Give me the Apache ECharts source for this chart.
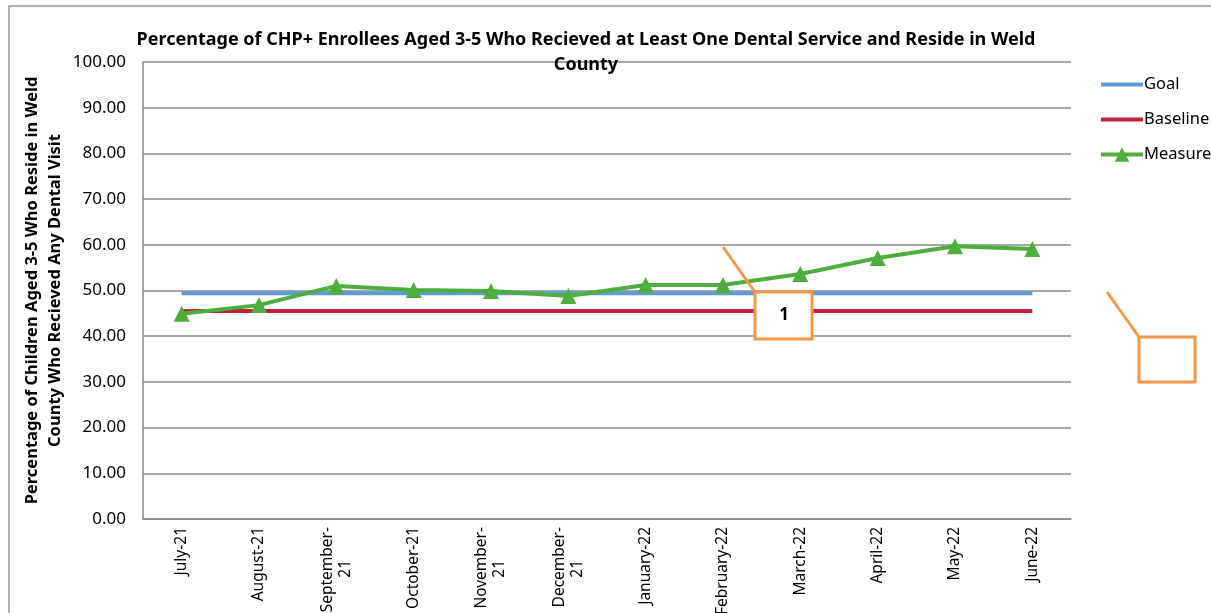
<!DOCTYPE html>
<html>
<head>
<meta charset="utf-8">
<script src="https://cdn.jsdelivr.net/npm/echarts@6/dist/echarts.min.js"></script>
<style>
  html, body { margin: 0; padding: 0; background: #fff; }
  #main { width: 1211px; height: 613px; }
</style>
</head>
<body>
<div id="main"></div>
<script>
// data
var months = ["July-21", "August-21", "September-\n21", "October-21", "November-\n21", "December-\n21",
  "January-22", "February-22", "March-22", "April-22", "May-22", "June-22"];
var goal = [49.4, 49.4, 49.4, 49.4, 49.4, 49.4, 49.4, 49.4, 49.4, 49.4, 49.4, 49.4];
var baseline = [45.5, 45.5, 45.5, 45.5, 45.5, 45.5, 45.5, 45.5, 45.5, 45.5, 45.5, 45.5];
var measure = [44.9, 46.8, 51.0, 50.1, 49.9, 48.8, 51.2, 51.2, 53.6, 57.1, 59.7, 59.1];

var font = "Noto Sans";
var orange = "#f79646";
var myChart = echarts.init(document.getElementById("main"));
var option = {
  backgroundColor: "#fff",
  animation: false,
  textStyle: { fontFamily: font },
  title: {
    text: "Percentage of CHP+ Enrollees Aged 3-5 Who Recieved at Least One Dental Service and Reside in Weld\nCounty",
    left: 581,
    top: 22,
    textAlign: "center",
    textStyle: { fontFamily: font, fontSize: 18, fontWeight: "bold", color: "#000", lineHeight: 25 }
  },
  legend: {
    orient: "vertical",
    left: 1094,
    top: 71,
    itemGap: 18,
    itemWidth: 42,
    itemHeight: 18,
    lineStyle: { width: 4 },
    textStyle: { fontFamily: font, fontSize: 16.5, color: "#000", padding: [0, 0, 0, -4] },
    data: [
      { name: "Goal", itemStyle: { opacity: 0 } },
      { name: "Baseline", itemStyle: { opacity: 0 } },
      { name: "Measure" }
    ]
  },
  grid: { left: 143, right: 140, top: 62, bottom: 94, outerBoundsMode: "none" },
  xAxis: {
    type: "category",
    data: months,
    boundaryGap: true,
    axisLine: { lineStyle: { color: "#888", width: 1.5 } },
    axisTick: { show: false },
    axisLabel: {
      rotate: 90, interval: 0, fontSize: 15.5, color: "#000", margin: 8, lineHeight: 18,
      formatter: function (v) {
        var parts = v.split("\n");
        if (parts.length === 1) return v;
        return "{a|" + parts[0] + "}\n{c|" + parts[1] + "}";
      },
      rich: {
        a: { fontSize: 15.5, lineHeight: 18 },
        c: { fontSize: 15.5, lineHeight: 18, padding: [0, 33, 0, 0] }
      }
    }
  },
  yAxis: {
    type: "value",
    min: 0,
    max: 100,
    interval: 10,
    name: "Percentage of Children Aged 3-5 Who Reside in Weld\nCounty Who Recieved Any Dental Visit",
    nameLocation: "middle",
    nameGap: 76,
    nameMoveOverlap: false,
    nameTextStyle: { fontFamily: font, fontSize: 16.5, fontWeight: "bold", color: "#000", lineHeight: 23 },
    axisLine: { show: true, lineStyle: { color: "#888", width: 1.5 } },
    axisTick: { show: false },
    splitLine: { lineStyle: { color: "#8a8a8a", width: 1.5 } },
    axisLabel: {
      fontSize: 17, color: "#000", margin: 17,
      formatter: function (v) { return v.toFixed(2); }
    }
  },
  series: [
    {
      name: "Goal", type: "line", data: goal, symbol: "none",
      lineStyle: { color: "#5f9bd3", width: 4 }, itemStyle: { color: "#5f9bd3" }
    },
    {
      name: "Baseline", type: "line", data: baseline, symbol: "none",
      lineStyle: { color: "#c0213b", width: 4 }, itemStyle: { color: "#c0213b" }
    },
    {
      name: "Measure", type: "line", data: measure, symbol: "triangle", symbolSize: 16,
      lineStyle: { color: "#4caf3c", width: 4 }, itemStyle: { color: "#4caf3c" }
    }
  ],
  graphic: [
    { type: "rect", z: -1, shape: { x: 9, y: 6, width: 1220, height: 620 }, style: { fill: null, stroke: "#999", lineWidth: 1.5 } },
    { type: "line", z: 100, shape: { x1: 723, y1: 247, x2: 755, y2: 292 }, style: { stroke: orange, lineWidth: 3 } },
    { type: "rect", z: 100, shape: { x: 755, y: 292, width: 57, height: 47 }, style: { fill: "#fff", stroke: orange, lineWidth: 3 } },
    { type: "text", z: 101, x: 784, y: 315, style: { text: "1", font: "bold 17px 'Noto Sans'", fill: "#000", align: "center", verticalAlign: "middle" } },
    { type: "line", z: 100, shape: { x1: 1107, y1: 292, x2: 1139, y2: 337 }, style: { stroke: orange, lineWidth: 3 } },
    { type: "rect", z: 100, shape: { x: 1139, y: 337, width: 56, height: 45 }, style: { fill: "#fff", stroke: orange, lineWidth: 3 } }
  ]
};
myChart.setOption(option);
</script>
</body>
</html>
